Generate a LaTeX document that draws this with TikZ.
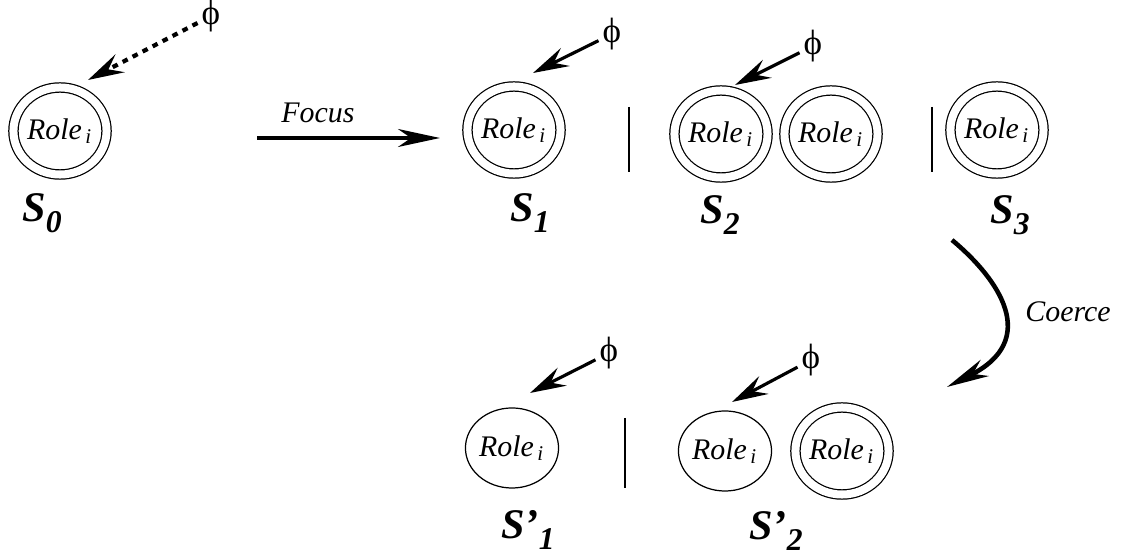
\documentclass[tikz,border=0pt]{standalone}
\usepackage{fontspec}
\setmainfont{Liberation Serif}
\usetikzlibrary{positioning, shapes.geometric, arrows.meta}

\newcommand{\rolei}{Role\textsubscript{\,i}}
\newcommand{\stname}[2]{\textbf{\textit{S#1\raisebox{-0.55ex}{\fontsize{9}{10}\selectfont #2}}}}

\tikzset{
  role/.style={draw, ellipse, line width=0.35pt, minimum width=0.86cm, minimum height=0.80cm,
    inner sep=0pt, font=\fontsize{8.5}{10}\selectfont\itshape},
  focusrole/.style={role, double, double distance=0.08cm, minimum width=0.93cm, minimum height=0.87cm},
  phinode/.style={inner sep=1pt, font=\fontsize{10}{11}\selectfont},
  stlabel/.style={font=\fontsize{12}{14}\selectfont},
  phiarrow/.style={line width=0.9pt, -{Stealth[length=0.36cm, width=0.2cm, inset=0.13cm]}},
  bigarrow/.style={line width=0.9pt, -{Stealth[length=0.42cm, width=0.18cm, inset=0.13cm]}},
  sep/.style={line width=0.35pt},
  lbl/.style={font=\fontsize{8.5}{10}\selectfont\itshape}
}

\begin{document}
\begin{tikzpicture}[x=0.01cm, y=-0.01cm]
  \useasboundingbox (0,0) rectangle (1126,558);

  % S0
  \node[focusrole] (r0) at (60,131) {\rolei};
  \node[stlabel] (s0) at (42,213) {\stname{}{0}};
  \node[phinode] (phi0) at (211,16) {ϕ};
  \coordinate (t0) at (88,80);
  \draw[phiarrow, line width=1.2pt, dash pattern=on 1.6pt off 1.6pt] (phi0) -- (t0);

  % Focus
  \coordinate (fa) at (257,138);
  \coordinate (fb) at (440,138);
  \draw[bigarrow] (fa) -- (fb);
  \node[lbl] (focus) at (318,113) {Focus};

  % S1
  \node[focusrole] (r1) at (514,130) {\rolei};
  \node[stlabel] (s1) at (530,213) {\stname{}{1}};
  \node[phinode] (phi1) at (612,34) {ϕ};
  \coordinate (t1) at (533,73);
  \draw[phiarrow] (phi1) -- (t1);
  \draw[sep] (629,107) -- (629,172);

  % S2
  \node[focusrole] (r2a) at (721,134) {\rolei};
  \node[focusrole] (r2b) at (831,134) {\rolei};
  \node[stlabel] (s2) at (720,215) {\stname{}{2}};
  \node[phinode] (phi2) at (813,46) {ϕ};
  \coordinate (t2) at (735,85);
  \draw[phiarrow] (phi2) -- (t2);
  \draw[sep] (932,107) -- (932,172);

  % S3
  \node[focusrole] (r3) at (997,130) {\rolei};
  \node[stlabel] (s3) at (1010,215) {\stname{}{3}};

  % Coerce
  \coordinate (ca) at (952,240);
  \coordinate (cb) at (947,387);
  \draw[bigarrow, line width=1.3pt] (ca) .. controls (1000,280) and (1040,340) .. (cb);
  \node[lbl] (coerce) at (1068,312) {Coerce};

  % S'1
  \node[role] (q1) at (512,448) {\rolei};
  \node[stlabel] (sq1) at (528,530) {\stname{’}{1}};
  \node[phinode] (phi3) at (609,353) {ϕ};
  \coordinate (t3) at (530,393);
  \draw[phiarrow] (phi3) -- (t3);
  \draw[sep] (625,418) -- (625,488);

  % S'2
  \node[role] (q2a) at (725,451) {\rolei};
  \node[focusrole] (q2b) at (842,451) {\rolei};
  \node[stlabel] (sq2) at (776,531) {\stname{’}{2}};
  \node[phinode] (phi4) at (811,360) {ϕ};
  \coordinate (t4) at (732,402);
  \draw[phiarrow] (phi4) -- (t4);
\end{tikzpicture}
\end{document}
